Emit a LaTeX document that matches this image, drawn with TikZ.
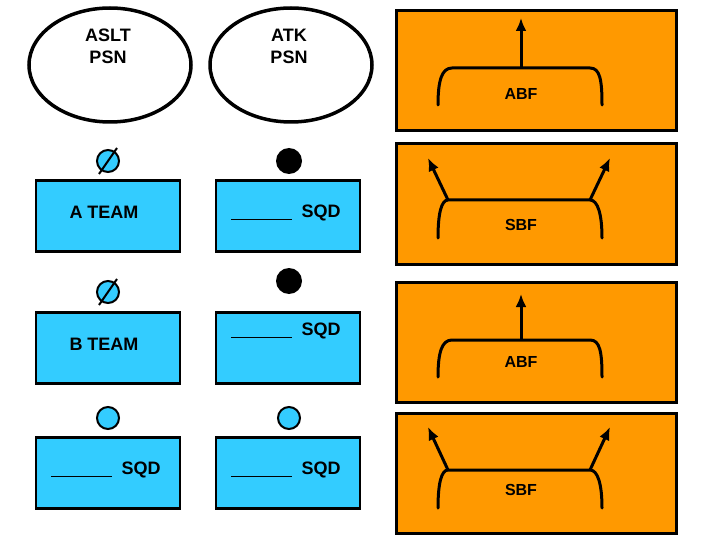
\documentclass[tikz,border=0pt]{standalone}
\usepackage{fontspec}
\setmainfont{Liberation Sans}
\usetikzlibrary{shapes.geometric,arrows.meta}
\definecolor{obg}{HTML}{FF9900}
\definecolor{bbg}{HTML}{33CCFF}
\begin{document}
\begin{tikzpicture}[x=1pt,y=-1pt,
  lbl/.style={font=\bfseries\fontsize{18}{22}\selectfont,align=center,inner sep=0},
  obox/.style={draw=black,line width=3pt,fill=obg},
  bbox/.style={draw=black,line width=2.5pt,fill=bbg,minimum width=144pt,minimum height=71pt,inner sep=0},
  ell/.style={draw=black,line width=3.5pt,ellipse,minimum width=162pt,minimum height=114pt,inner sep=0},
  dotb/.style={circle,fill=black,minimum size=26pt,inner sep=0},
  dotc/.style={circle,draw=black,line width=2pt,fill=bbg,minimum size=22pt,inner sep=0},
  sym/.style={line width=3pt,line cap=round},
  arr/.style={line width=3pt,-{Latex[length=13pt,width=11pt]}}]
\newcommand{\blank}{\underline{\phantom{XXXXX}}\ \ }
\useasboundingbox (0,0) rectangle (720,540);
% ellipses
\node[ell] (e1) at (110,65) {};
\node[ell] (e2) at (291,65) {};
\node[lbl] (t1) at (108,46) {ASLT\\PSN};
\node[lbl] (t2) at (289,46) {ATK\\PSN};
% blue boxes
\node[bbox] (b1) at (108,216) {};
\node[bbox] (b2) at (288,216) {};
\node[bbox] (b3) at (108,348) {};
\node[bbox] (b4) at (288,348) {};
\node[bbox] (b5) at (108,473) {};
\node[bbox] (b6) at (288,473) {};
\node[lbl] at (104,212) {A TEAM};
\node[lbl] at (286,213) {\blank SQD};
\node[lbl] at (104,344) {B TEAM};
\node[lbl] at (286,331) {\blank SQD};
\node[lbl] at (106,470) {\blank SQD};
\node[lbl] at (286,470) {\blank SQD};
% circles
\node[dotc] (c1) at (108,161) {};
\draw[line width=2pt] (c1.center)+(9,-13) -- +(-9,13);
\node[dotb] (c2) at (289,161) {};
\node[dotc] (c3) at (108,292) {};
\draw[line width=2pt] (c3.center)+(9,-13) -- +(-9,13);
\node[dotb] (c4) at (289,281) {};
\node[dotc] (c5) at (108,418) {};
\node[dotc] (c6) at (289,418) {};
% orange boxes
\draw[obox] (396,11) rectangle (676,131);
\draw[obox] (396,144) rectangle (676,264);
\draw[obox] (396,282) rectangle (676,402);
\draw[obox] (396,413) rectangle (676,533);
% ABF 1
\draw[sym] (438,105) .. controls (438,80) and (442,68) .. (452,68) -- (590,68) .. controls (600,68) and (602,80) .. (602,105);
\draw[arr] (521,68) -- (521,18);
\node[lbl,font=\bfseries\fontsize{16}{18}\selectfont] at (521,94) {ABF};
% SBF 1
\draw[sym] (438,238) .. controls (438,215) and (441,200) .. (448,200) -- (590,200) .. controls (598,200) and (602,215) .. (602,238);
\draw[arr] (448,200) -- (428,158);
\draw[arr] (590,200) -- (610,158);
\node[lbl,font=\bfseries\fontsize{16}{18}\selectfont] at (521,225) {SBF};
% ABF 2
\draw[sym] (438,377) .. controls (438,352) and (442,340) .. (452,340) -- (590,340) .. controls (600,340) and (602,352) .. (602,377);
\draw[arr] (521,340) -- (521,294);
\node[lbl,font=\bfseries\fontsize{16}{18}\selectfont] at (521,362) {ABF};
% SBF 2
\draw[sym] (438,508) .. controls (438,485) and (441,470) .. (448,470) -- (590,470) .. controls (598,470) and (602,485) .. (602,508);
\draw[arr] (448,470) -- (428,427);
\draw[arr] (590,470) -- (610,427);
\node[lbl,font=\bfseries\fontsize{16}{18}\selectfont] at (521,490) {SBF};
\end{tikzpicture}
\end{document}
